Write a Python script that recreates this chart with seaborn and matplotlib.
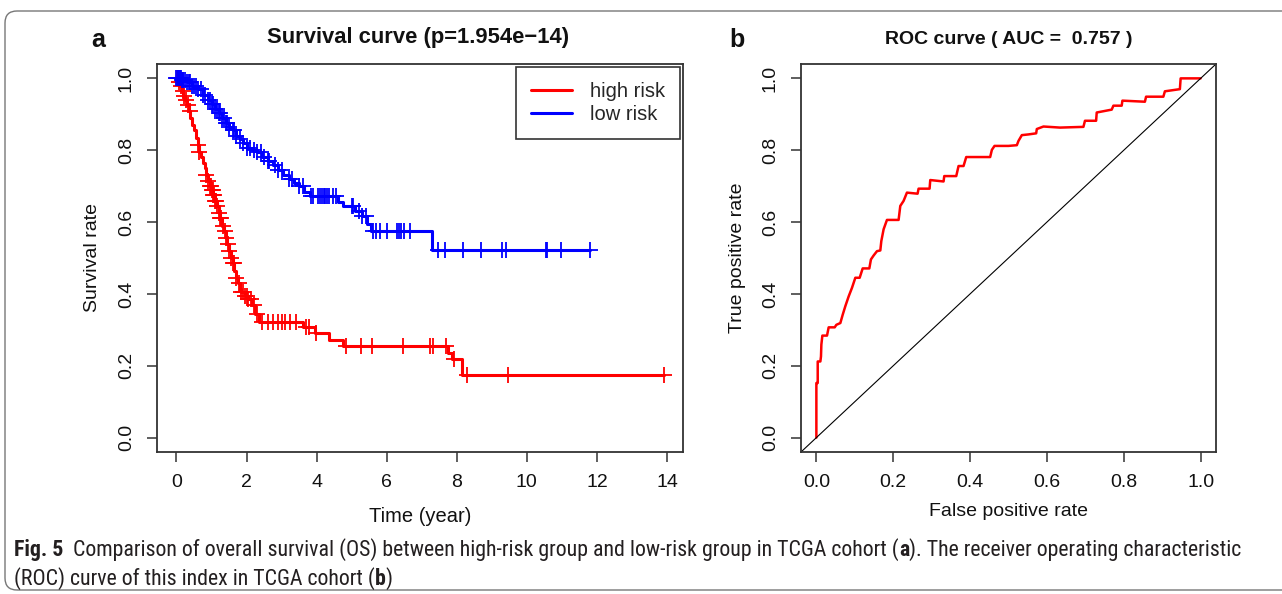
import os
import numpy as np
import pandas as pd
import matplotlib
matplotlib.use("Agg")
import matplotlib.pyplot as plt
import seaborn as sns
from matplotlib import font_manager as fm
from matplotlib.patches import FancyBboxPatch

# ---------------- data ----------------
high_times = [0, 0.05, 0.1, 0.15, 0.2, 0.25, 0.3, 0.35, 0.4, 0.45, 0.5, 0.55, 0.6, 0.65,
              0.7, 0.75, 0.8, 0.85, 0.9, 0.95, 1.0, 1.05, 1.1, 1.15, 1.2, 1.25, 1.3, 1.35,
              1.4, 1.45, 1.5, 1.55, 1.6, 1.65, 1.7, 1.75, 1.8, 1.85, 1.95, 2.05, 2.15, 2.25,
              2.35, 3.6, 3.95, 4.35, 4.75, 7.75, 7.85, 8.15]
high_surv = [1.0, 0.99, 0.98, 0.965, 0.95, 0.94, 0.925, 0.91, 0.89, 0.87, 0.855, 0.835,
             0.815, 0.795, 0.78, 0.765, 0.75, 0.73, 0.715, 0.70, 0.69, 0.675, 0.66, 0.645,
             0.625, 0.61, 0.59, 0.575, 0.555, 0.54, 0.52, 0.50, 0.485, 0.465, 0.445, 0.43,
             0.415, 0.405, 0.395, 0.385, 0.37, 0.345, 0.322, 0.308, 0.292, 0.272, 0.254,
             0.235, 0.218, 0.173]
high_end = 13.9
high_censor = [0.02, 0.08, 0.12, 0.18, 0.22, 0.28, 0.33, 0.38, 0.6, 0.65, 0.85, 0.9, 0.95,
               0.98, 1.0, 1.03, 1.05, 1.08, 1.1, 1.13, 1.15, 1.2, 1.25, 1.28, 1.32, 1.38,
               1.42, 1.46, 1.5, 1.55, 1.6, 1.63, 1.7, 1.78, 1.85, 1.9, 1.95, 2.0, 2.05, 2.12,
               2.2, 2.3, 2.45, 2.6, 2.75, 2.9, 3.0, 3.1, 3.25, 3.4, 3.7, 3.77, 3.99, 4.85,
               5.28, 5.57, 6.47, 7.24, 7.32, 7.69, 7.91, 8.29, 9.46, 13.9]

low_times = [0, 0.15, 0.3, 0.45, 0.6, 0.75, 0.9, 1.0, 1.1, 1.2, 1.3, 1.4, 1.5, 1.6, 1.7,
             1.8, 1.9, 2.0, 2.15, 2.3, 2.45, 2.6, 2.75, 2.9, 3.05, 3.2, 3.35, 3.5, 3.65,
             3.8, 4.6, 4.75, 5.1, 5.3, 5.45, 5.55, 7.3]
low_surv = [1.0, 0.995, 0.99, 0.98, 0.97, 0.955, 0.94, 0.93, 0.915, 0.905, 0.89, 0.875,
            0.865, 0.855, 0.84, 0.83, 0.82, 0.805, 0.80, 0.795, 0.78, 0.77, 0.76, 0.745,
            0.73, 0.72, 0.71, 0.70, 0.685, 0.672, 0.655, 0.645, 0.632, 0.617, 0.595,
            0.575, 0.522]
low_end = 11.8
low_censor = [0.0, 0.03, 0.05, 0.08, 0.1, 0.12, 0.15, 0.18, 0.2, 0.25, 0.3, 0.35, 0.4, 0.45,
              0.5, 0.55, 0.6, 0.7, 0.75, 0.8, 0.9, 0.95, 1.0, 1.05, 1.1, 1.15, 1.2, 1.25,
              1.3, 1.35, 1.4, 1.45, 1.5, 1.6, 1.65, 1.7, 1.8, 1.9, 2.0, 2.1, 2.2, 2.3, 2.4,
              2.5, 2.6, 2.65, 2.8, 2.9, 3.0, 3.2, 3.3, 3.5, 3.6, 3.85, 3.9, 4.04, 4.1, 4.15,
              4.2, 4.25, 4.3, 4.35, 4.47, 4.55, 5.0, 5.05, 5.2, 5.3, 5.4, 5.61, 5.7, 5.8,
              6.0, 6.3, 6.35, 6.4, 6.5, 6.66, 7.46, 7.67, 8.18, 8.70, 9.28, 9.41, 10.54,
              10.57, 10.97, 11.8]

roc_fpr = [0.0, 0.0, 0.0035, 0.0035, 0.0104, 0.012, 0.013, 0.0156, 0.0277, 0.032, 0.0477,
           0.052, 0.0624, 0.0685, 0.0754, 0.084, 0.0927, 0.1014, 0.1127, 0.1205, 0.1378,
           0.142, 0.149, 0.1577, 0.1664, 0.169, 0.175, 0.1837, 0.214, 0.2184, 0.227,
           0.2357, 0.2634, 0.266, 0.2946, 0.2964, 0.331, 0.3328, 0.364, 0.37, 0.383, 0.39,
           0.4523, 0.4567, 0.4636, 0.5, 0.5217, 0.526, 0.5347, 0.552, 0.572, 0.5737, 0.591,
           0.634, 0.695, 0.699, 0.728, 0.7296, 0.7686, 0.773, 0.7946, 0.7964, 0.855, 0.858,
           0.903, 0.907, 0.946, 0.948, 1.0]
roc_tpr = [0.0, 0.152, 0.152, 0.212, 0.212, 0.226, 0.259, 0.284, 0.284, 0.307, 0.307,
           0.314, 0.319, 0.342, 0.366, 0.393, 0.417, 0.445, 0.445, 0.471, 0.471, 0.496,
           0.507, 0.519, 0.521, 0.547, 0.58, 0.606, 0.606, 0.645, 0.659, 0.682, 0.679,
           0.693, 0.693, 0.717, 0.713, 0.728, 0.728, 0.756, 0.756, 0.781, 0.781, 0.801,
           0.812, 0.812, 0.814, 0.826, 0.842, 0.844, 0.847, 0.859, 0.866, 0.863, 0.865,
           0.882, 0.882, 0.905, 0.913, 0.924, 0.924, 0.938, 0.935, 0.949, 0.949, 0.964,
           0.970, 1.0, 1.0]

km_xticks = [0, 2, 4, 6, 8, 10, 12, 14]
prob_ticks = [0.0, 0.2, 0.4, 0.6, 0.8, 1.0]
title_a = "Survival curve (p=1.954e\u221214)"
title_b = "ROC curve ( AUC =  0.757 )"
caption_line1 = [("Fig. 5", True),
                 ("  Comparison of overall survival (OS) between high-risk group and low-risk group in TCGA cohort (", False),
                 ("a", True),
                 ("). The receiver operating characteristic", False)]
caption_line2 = [("(ROC) curve of this index in TCGA cohort (", False), ("b", True), (")", False)]

# ---------------- style ----------------
sns.set_theme(style="white")
plt.rcParams["font.family"] = ["Liberation Sans", "DejaVu Sans"]
W, H = 1282, 594
fig = plt.figure(figsize=(W / 100, H / 100), dpi=100)
fig.patch.set_facecolor("white")

axA = fig.add_axes([157 / W, 1 - 452 / H, (683 - 157) / W, (452 - 64) / H])
axB = fig.add_axes([801 / W, 1 - 452 / H, (1216 - 801) / W, (452 - 64) / H])

RED = "#FF0000"
BLUE = "#0000FF"


def km_frame(t, s, end):
    return pd.DataFrame({"time": list(t) + [end], "surv": list(s) + [s[-1]]})


def censor_frame(t, s, c):
    idx = np.searchsorted(np.asarray(t), np.asarray(c), side="right") - 1
    return pd.DataFrame({"time": c, "surv": np.asarray(s)[idx]})


# ---- panel a ----
sns.lineplot(data=km_frame(high_times, high_surv, high_end), x="time", y="surv", ax=axA,
             color=RED, lw=2.2, drawstyle="steps-post", estimator=None, sort=False,
             label="high risk")
sns.lineplot(data=km_frame(low_times, low_surv, low_end), x="time", y="surv", ax=axA,
             color=BLUE, lw=2.2, drawstyle="steps-post", estimator=None, sort=False,
             label="low risk")
sns.scatterplot(data=censor_frame(high_times, high_surv, high_censor), x="time", y="surv",
                ax=axA, marker="+", s=120, color=RED, linewidth=1.3, legend=False, zorder=3)
sns.scatterplot(data=censor_frame(low_times, low_surv, low_censor), x="time", y="surv",
                ax=axA, marker="+", s=120, color=BLUE, linewidth=1.3, legend=False, zorder=3)

axA.set_xlim(-0.556, 14.456)
axA.set_ylim(-0.04, 1.04)
axA.set_xticks(km_xticks)
axA.set_xticklabels([str(v) for v in km_xticks])
leg = axA.legend(loc="upper right", frameon=True, fancybox=False, edgecolor="#333333",
                 framealpha=1, fontsize=14.5, handlelength=2.0, borderaxespad=0.15,
                 borderpad=0.75, labelspacing=0.2, handletextpad=0.9)
leg.get_frame().set_linewidth(1.2)
for ln in leg.get_lines():
    ln.set_linewidth(2.2)

# ---- panel b ----
sns.lineplot(x=roc_fpr, y=roc_tpr, ax=axB, color=RED, lw=1.8, estimator=None, sort=False)
axB.axline((0, 0), (1, 1), color="black", lw=0.8)
axB.set_xlim(-0.04, 1.04)
axB.set_ylim(-0.04, 1.04)
axB.set_xticks(prob_ticks)
axB.set_xticklabels([f"{v:.1f}" for v in prob_ticks])

for ax in (axA, axB):
    ax.set_yticks(prob_ticks)
    ax.set_yticklabels([f"{v:.1f}" for v in prob_ticks])
    for sp in ax.spines.values():
        sp.set_visible(True)
        sp.set_color("#333333")
        sp.set_linewidth(1.3)
    ax.tick_params(axis="both", direction="out", length=7, width=1.1, color="#333333",
                   labelsize=14, labelcolor="#111111", bottom=True, left=True)
    ax.tick_params(axis="x", pad=9)
    ax.tick_params(axis="y", pad=9, labelrotation=90)
    for lab in ax.get_yticklabels():
        lab.set_va("center")
    ax.grid(False)

axA.set_xlabel("Time (year)", fontsize=14.5, color="#111111")
axA.set_ylabel("Survival rate", fontsize=14, color="#111111")
axB.set_xlabel("False positive rate", fontsize=14, color="#111111")
axB.set_ylabel("True positive rate", fontsize=14, color="#111111")
axA.xaxis.set_label_coords(0.5, (452 - 517) / 388)
axA.yaxis.set_label_coords((92 - 157) / 526, 0.5)
axB.xaxis.set_label_coords(0.5, (452 - 512) / 388)
axB.yaxis.set_label_coords((737 - 801) / 415, 0.5)
for lab in (axA.xaxis.label, axB.xaxis.label, axA.yaxis.label, axB.yaxis.label):
    lab.set_va("center")

fig.text(418 / W, 1 - 37 / H, title_a, ha="center", va="center", fontsize=15.8,
         fontweight="bold", color="#111111")
fig.text(1009 / W, 1 - 40 / H, title_b, ha="center", va="center", fontsize=14,
         fontweight="bold", color="#111111")
fig.text(98 / W, 1 - 40 / H, "a", ha="center", va="center", fontsize=18,
         fontweight="bold", color="#111111")
fig.text(737 / W, 1 - 40 / H, "b", ha="center", va="center", fontsize=18,
         fontweight="bold", color="#111111")

# ---- frame around the figure ----
fig.patches.append(FancyBboxPatch((5, 4), 1320, 579,
                                  boxstyle="round,pad=0,rounding_size=12",
                                  transform=None, fill=False, edgecolor="#777777",
                                  lw=1.0))


# ---- caption ----
def find_font(names):
    for n in names:
        for f in fm.fontManager.ttflist:
            if os.path.basename(f.fname) == n:
                return f.fname
    return None


reg_path = find_font(["RobotoCondensed-Regular.ttf", "LiberationSansNarrow-Regular.ttf",
                      "DejaVuSansCondensed.ttf", "LiberationSans-Regular.ttf"])
bold_path = find_font(["RobotoCondensed-Bold.ttf", "LiberationSansNarrow-Bold.ttf",
                       "DejaVuSansCondensed-Bold.ttf", "LiberationSans-Bold.ttf"])


def fp(bold, size):
    path = bold_path if bold else reg_path
    if path:
        return fm.FontProperties(fname=path, size=size)
    return fm.FontProperties(family="DejaVu Sans", weight="bold" if bold else "normal",
                             size=size)


renderer = fig.canvas.get_renderer()


def draw_runs(runs, x0, y, size):
    x = x0
    for txt, bold in runs:
        t = fig.text(x / W, 1 - y / H, txt, fontproperties=fp(bold, size), ha="left",
                     va="baseline", color="#231F20")
        x += t.get_window_extent(renderer).width
    return x


# fit caption width
probe = draw_runs(caption_line1, 0, -100, 10)
for t in list(fig.texts)[-len(caption_line1):]:
    t.remove()
cap_size = 10 * (1237 - 14) / probe
draw_runs(caption_line1, 14, 556, cap_size)
draw_runs(caption_line2, 14, 585, cap_size)

fig.savefig("out.png", dpi=100, facecolor="white")
